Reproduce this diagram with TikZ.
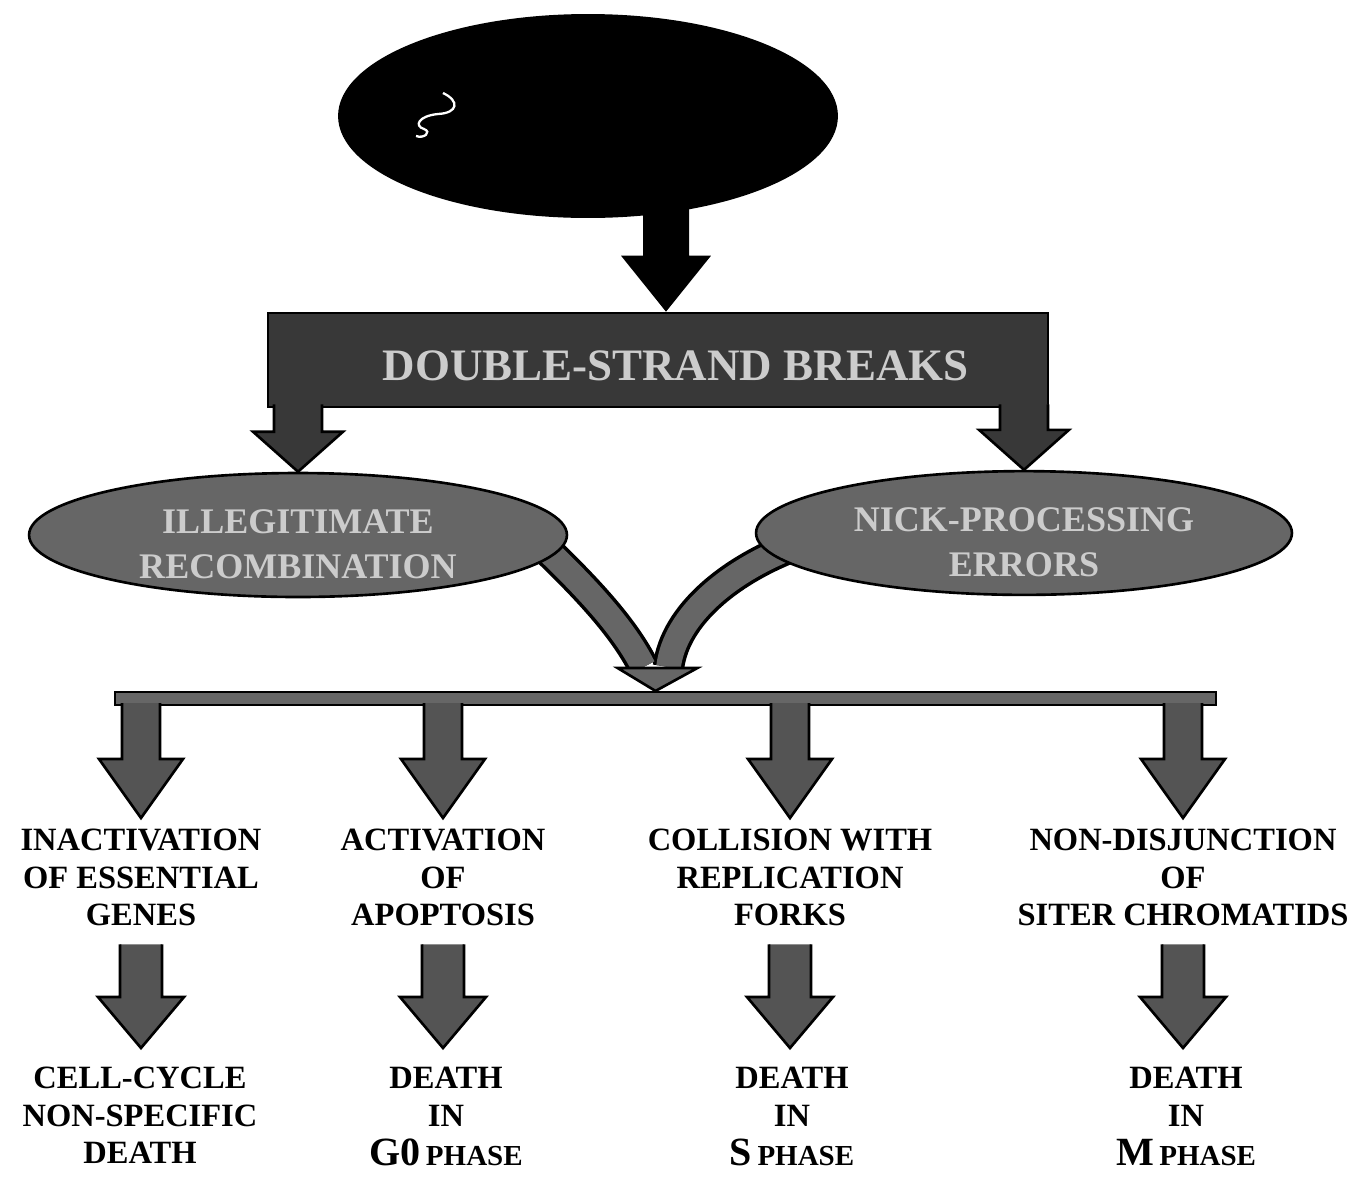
\documentclass[tikz,border=0pt]{standalone}
\usepackage{fontspec}
\setmainfont{Liberation Serif}
\usetikzlibrary{calc,shapes.geometric,backgrounds}

\definecolor{boxgray}{gray}{0.22}
\definecolor{ovalgray}{gray}{0.40}
\definecolor{arrgray}{gray}{0.33}
\definecolor{embtext}{gray}{0.80}

% block arrow: style, from, tip, shaft half, head half, head length (px)
\newcommand{\fatarrow}[6]{%
  \path[#1] let \p1=(#2), \p2=(#3) in
    (\x1-#4*0.569pt,\y1) -- (\x1-#4*0.569pt,\y2+#6*0.569pt)
    -- (\x1-#5*0.569pt,\y2+#6*0.569pt) -- (\x1,\y2)
    -- (\x1+#5*0.569pt,\y2+#6*0.569pt) -- (\x1+#4*0.569pt,\y2+#6*0.569pt)
    -- (\x1+#4*0.569pt,\y1);}
\newcommand{\phasename}[1]{{\fontsize{22.8}{26}\selectfont #1}\,{\fontsize{16.5}{20}\selectfont PHASE}}

\begin{document}
\begin{tikzpicture}[x=0.02cm,y=-0.02cm,
  every node/.style={inner sep=0pt},
  oval/.style={ellipse,draw,line width=1.5pt,fill=ovalgray,text=embtext,align=center,
    font=\bfseries\fontsize{20.5}{25.6}\selectfont},
  fatarr/.style={fill=arrgray,draw,line width=1.5pt},
  legarr/.style={fill=boxgray,draw,line width=1.5pt},
  lbl/.style={anchor=north,align=center,font=\bfseries\fontsize{18.5}{21.3}\selectfont}]
\useasboundingbox (0,0) rectangle (1358,1177);

% source
\node[ellipse,fill=black,minimum width=10cm,minimum height=4.08cm] (src) at (588,116) {};
\draw[white,line width=1.3pt] (443,93) .. controls (460,101) and (458,113) .. (438,114)
  .. controls (418,116) and (414,126) .. (424,129) .. controls (432,132) and (424,139) .. (416,136);
\coordinate (s0) at ($(src.south)+(78,-15)$);

% breaks
\node[draw,line width=1.5pt,fill=boxgray,text=embtext,minimum width=15.6cm,minimum height=1.88cm,
  font=\bfseries\fontsize{25.6}{30}\selectfont] (dsb) at (658,360)
  {\hspace*{20pt}\rule{0pt}{24pt}DOUBLE-STRAND BREAKS};
\fatarrow{fill=black}{s0}{s0 |- dsb.north}{23}{45}{56}

\node[oval,minimum width=10.76cm,minimum height=2.48cm] (ill) at (298,535)
  {\rule{0pt}{24pt}ILLEGITIMATE\\RECOMBINATION};
\node[oval,minimum width=10.72cm,minimum height=2.46cm] (nick) at (1024,533)
  {\rule{0pt}{24pt}NICK-PROCESSING\\ERRORS};
\foreach \k in {ill,nick}
  {\fatarrow{legarr}{$(dsb.south -| \k.north)+(0,-4)$}{\k.north}{24}{45}{40}}

% merging arrow
\node[draw,line width=1.2pt,fill=ovalgray,minimum width=22.02cm,minimum height=0.26cm] (bar) at (665.5,698.5) {};
\coordinate (vtip) at ($(bar.north)+(-10,0)$);
\begin{pgfonlayer}{background}
\foreach \w/\c in {18pt/black,14pt/ovalgray}{
  \draw[line width=\w,\c] ($(ill.-5)+(-22,-24)$) .. controls (590,590) and (625,630) .. ($(vtip)+(-12,-24)$);
  \draw[line width=\w,\c] ($(nick.-175)+(25,-10)$) .. controls (730,570) and (675,615) .. ($(vtip)+(13,-24)$);
}
\end{pgfonlayer}
\draw[fatarr,fill=ovalgray] ($(vtip)+(-38,-23)$) -- ($(vtip)+(42,-23)$) -- (vtip) -- cycle;

% consequences
\foreach \k/\x/\t in {in1/141/{INACTIVATION\\OF ESSENTIAL\\GENES},
                      ac1/443/{ACTIVATION\\OF\\APOPTOSIS},
                      co1/790/{COLLISION WITH\\REPLICATION\\FORKS},
                      nd1/1183/{NON-DISJUNCTION\\OF\\SITER CHROMATIDS}}
  \node[lbl] (\k) at (\x,829) {\t};
\foreach \k in {in1,ac1,co1,nd1}
  {\fatarrow{fatarr}{$(bar.south -| \k.north)+(0,-3)$}{$(\k.north)+(0,-11)$}{19}{42}{59}}

% deaths
\foreach \k/\x/\t in {cc2/140/{CELL-CYCLE\\NON-SPECIFIC\\DEATH},
                      g02/446/{DEATH\\IN\\[1pt]\phasename{G0}},
                      s2/792/{DEATH\\IN\\[1pt]\phasename{S}},
                      m2/1186/{DEATH\\IN\\[1pt]\phasename{M}}}
  \node[lbl] (\k) at (\x,1067) {\t};
\foreach \a/\b in {in1/cc2,ac1/g02,co1/s2,nd1/m2}
  {\fatarrow{fatarr}{$(\a.south)+(0,18)$}{$(\b.north)+(0,-19)$}{21}{43}{51}}
\end{tikzpicture}
\end{document}
